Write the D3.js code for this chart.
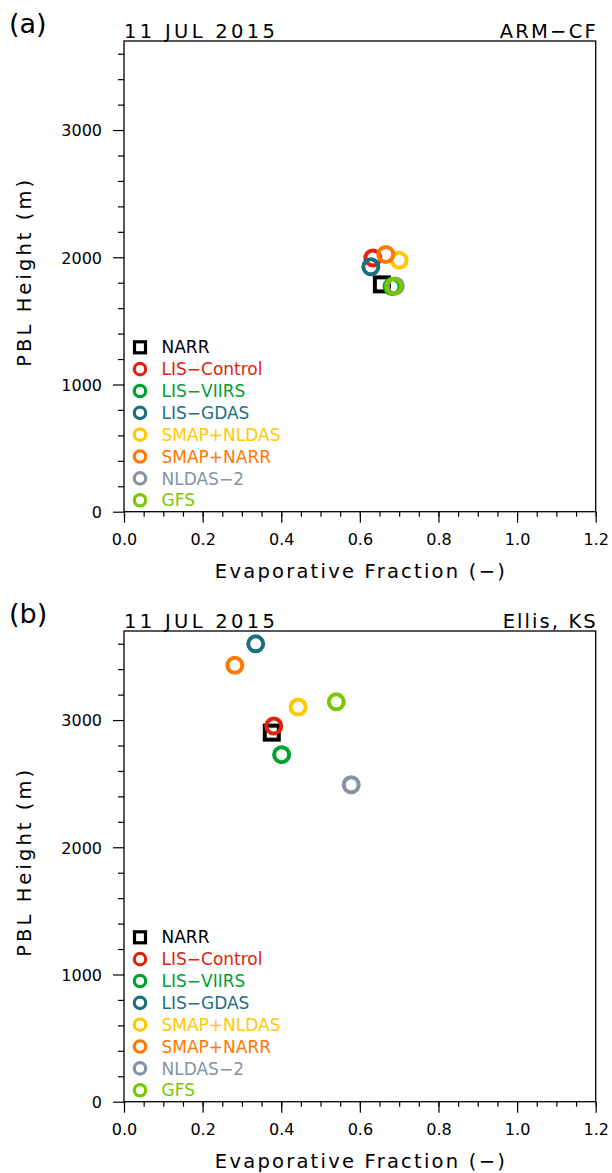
<!DOCTYPE html>
<html><head><meta charset="utf-8">
<script src="https://cdn.jsdelivr.net/npm/d3@7"></script>
<style>body{margin:0;background:#fff}svg{display:block}text{font-family:"DejaVu Sans",sans-serif}</style>
</head><body><svg id="c" width="612" height="1173"></svg>
<script>
const models = ["NARR","LIS\u2212Control","LIS\u2212VIIRS","LIS\u2212GDAS","SMAP+NLDAS","SMAP+NARR","NLDAS\u22122","GFS"];
const colors = ["#000000","#e0220a","#00a032","#1e6e82","#ffc800","#ff7800","#8593a3","#78c800"];
const shapes = ["square","circle","circle","circle","circle","circle","circle","circle"];
const efA  = [0.656,0.633,0.682,0.628,0.700,0.666,0.690,0.686];
const pblA = [1787,1995,1770,1925,1977,2022,1774,1772];
const efB  = [0.376,0.381,0.401,0.335,0.443,0.282,0.578,0.540];
const pblB = [2901,2953,2728,3599,3102,3430,2491,3143];
const xTicks = [0,0.2,0.4,0.6,0.8,1.0,1.2];
const yTicks = [0,1000,2000,3000];
const panels = [
  {tag:"(a)", date:"11 JUL 2015", site:"ARM\u2212CF", siteW:96, ef:efA, pbl:pblA, top:41},
  {tag:"(b)", date:"11 JUL 2015", site:"Ellis, KS", siteW:93, ef:efB, pbl:pblB, top:631}
];
const svg = d3.select("#c");
const L = 124, W = 471.7, H = 470.7;
panels.forEach(p => {
  const g = svg.append("g").attr("transform", `translate(${L},${p.top})`);
  const x = d3.scaleLinear().domain([0,1.2]).range([0,W]);
  const y = d3.scaleLinear().domain([0,3700]).range([H,0]);
  const xa = g.append("g").attr("transform",`translate(0,${H})`)
    .call(d3.axisBottom(x).tickValues(d3.range(0,1.2001,0.05)).tickSize(5).tickFormat(""));
  xa.select(".domain").remove();
  const xm = g.append("g").attr("transform",`translate(0,${H})`)
    .call(d3.axisBottom(x).tickValues(xTicks).tickSize(11).tickPadding(11).tickFormat(d3.format(".1f")));
  xm.select(".domain").remove();
  xm.selectAll("text").attr("font-size",16).attr("fill","#000");
  const ya = g.append("g").call(d3.axisLeft(y).tickValues(d3.range(200,3701,200).filter(v=>v%1000)).tickSize(6).tickFormat(""));
  ya.select(".domain").remove();
  const ym = g.append("g").call(d3.axisLeft(y).tickValues(yTicks).tickSize(11).tickPadding(11).tickFormat(d3.format("d")));
  ym.select(".domain").remove();
  ym.selectAll("text").attr("font-size",16).attr("fill","#000").attr("dy","0.36em");
  g.selectAll(".tick line").attr("stroke","#000").attr("stroke-width",1.2);
  g.append("rect").attr("width",W).attr("height",H).attr("fill","none").attr("stroke","#000").attr("stroke-width",1.3);
  g.append("text").attr("x",0).attr("y",-3).attr("font-size",19.5).attr("textLength",151).attr("lengthAdjust","spacing").text(p.date);
  g.append("text").attr("x",W-p.siteW).attr("y",-3).attr("font-size",19.5).attr("textLength",p.siteW).attr("lengthAdjust","spacing").text(p.site);
  svg.append("text").attr("x",9).attr("y",p.top-8).attr("font-size",27).text(p.tag);
  g.append("text").attr("x",W/2-145).attr("y",H+66).attr("font-size",19.5).attr("textLength",290).attr("lengthAdjust","spacing").text("Evaporative Fraction (\u2212)");
  g.append("text").attr("transform",`translate(${-93},${H/2-3+93.5}) rotate(-90)`).attr("font-size",19.5).attr("textLength",187).attr("lengthAdjust","spacing").text("PBL Height (m)");
  models.forEach((m,i) => {
    const cx = x(p.ef[i]), cy = y(p.pbl[i]);
    if (shapes[i]==="square") {
      g.append("rect").attr("x",cx-7).attr("y",cy-7).attr("width",14).attr("height",14)
        .attr("fill","none").attr("stroke",colors[i]).attr("stroke-width",4);
    } else {
      g.append("circle").attr("cx",cx).attr("cy",cy).attr("r",7.5)
        .attr("fill","none").attr("stroke",colors[i]).attr("stroke-width",4);
    }
  });
  const lg = g.append("g").attr("transform","translate(16,306.3)");
  models.forEach((m,i) => {
    const ly = i*21.85;
    if (shapes[i]==="square") {
      lg.append("rect").attr("x",-5.5).attr("y",ly-5.5).attr("width",11).attr("height",11)
        .attr("fill","none").attr("stroke",colors[i]).attr("stroke-width",3.2);
    } else {
      lg.append("circle").attr("cx",0).attr("cy",ly).attr("r",5.7)
        .attr("fill","none").attr("stroke",colors[i]).attr("stroke-width",3.2);
    }
    lg.append("text").attr("x",21.5).attr("y",ly).attr("dy","0.36em").attr("font-size",17).attr("fill",colors[i]).text(m);
  });
});
</script></body></html>
